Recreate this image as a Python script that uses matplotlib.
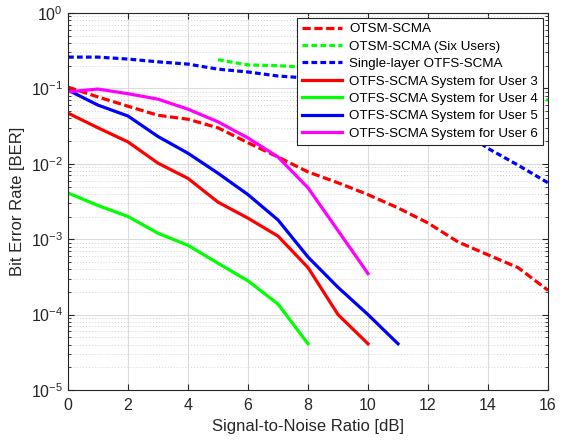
import matplotlib
matplotlib.use("Agg")
import matplotlib.pyplot as plt
from matplotlib.ticker import LogLocator, NullFormatter, FixedLocator

plt.rcParams['font.family'] = ['Liberation Sans', 'DejaVu Sans']
plt.rcParams['mathtext.fontset'] = 'custom'
plt.rcParams['mathtext.rm'] = 'Liberation Sans'

snr_otsm = list(range(0, 17))
ber_otsm = [0.104, 0.077, 0.058, 0.044, 0.039, 0.030, 0.019, 0.0123, 0.0078,
            0.0056, 0.0039, 0.0026, 0.00164, 0.00092, 0.00062, 0.00042, 0.00021]

snr_six = list(range(5, 17))
ber_six = [0.24, 0.205, 0.2, 0.19, 0.175, 0.16, 0.145, 0.13, 0.115, 0.1, 0.085, 0.07]

snr_single = list(range(0, 17))
ber_single = [0.26, 0.26, 0.245, 0.225, 0.21, 0.18, 0.165, 0.146, 0.137,
              0.12, 0.1, 0.08, 0.055, 0.03, 0.016, 0.0096, 0.0056]

snr_u3 = list(range(0, 11))
ber_u3 = [0.047, 0.03, 0.0195, 0.0102, 0.0064, 0.0031, 0.0019, 0.0011, 0.00042, 0.0001, 4.1e-5]

snr_u4 = list(range(0, 9))
ber_u4 = [0.0041, 0.0028, 0.002, 0.0012, 0.00083, 0.00048, 0.00028, 0.000138, 4.1e-5]

snr_u5 = list(range(0, 12))
ber_u5 = [0.095, 0.06, 0.043, 0.023, 0.0138, 0.0075, 0.0039, 0.0018, 0.00058, 0.00023, 0.0001, 4.1e-5]

snr_u6 = list(range(0, 11))
ber_u6 = [0.09, 0.098, 0.085, 0.072, 0.053, 0.036, 0.022, 0.0123, 0.0048, 0.0013, 0.00035]

fig = plt.figure(figsize=(5.63, 4.42), dpi=100)
ax = fig.add_axes([0.1208, 0.1176, 0.8526, 0.853])

lw = 2.3
ax.plot(snr_otsm, ber_otsm, color='#ff0000', lw=lw, dashes=(2.6, 1.1), label='OTSM-SCMA')
ax.plot(snr_six, ber_six, color='#00ff00', lw=lw, dashes=(1.8, 1.0), label='OTSM-SCMA (Six Users)')
ax.plot(snr_single, ber_single, color='#0000ff', lw=lw, dashes=(1.8, 1.0), label='Single-layer OTFS-SCMA')
ax.plot(snr_u3, ber_u3, color='#ff0000', lw=lw, label='OTFS-SCMA System for User 3')
ax.plot(snr_u4, ber_u4, color='#00ff00', lw=lw, label='OTFS-SCMA System for User 4')
ax.plot(snr_u5, ber_u5, color='#0000ff', lw=lw, label='OTFS-SCMA System for User 5')
ax.plot(snr_u6, ber_u6, color='#ff00ff', lw=lw, label='OTFS-SCMA System for User 6')

ax.set_yscale('log')
ax.set_xlim(0, 16)
ax.set_ylim(1e-5, 1)
ax.xaxis.set_major_locator(FixedLocator(list(range(0, 17, 2))))
ax.yaxis.set_major_locator(LogLocator(base=10, numticks=10))
ax.yaxis.set_minor_locator(LogLocator(base=10, subs=range(2, 10), numticks=20))
ax.yaxis.set_minor_formatter(NullFormatter())

ax.grid(True, which='major', color='#dcdcdc', lw=0.8, ls='-')
ax.grid(True, which='minor', axis='y', color='#d4d4d4', lw=0.7, ls=(0, (1, 2)))
ax.set_axisbelow(True)

for s in ax.spines.values():
    s.set_color('#262626')
    s.set_linewidth(0.8)
ax.tick_params(which='both', direction='in', top=True, right=True, colors='#262626',
               labelsize=11.5, labelcolor='#262626')
ax.tick_params(which='major', length=4)
ax.tick_params(which='minor', length=2)
ax.tick_params(axis='x', pad=6)

ax.set_xlabel('Signal-to-Noise Ratio [dB]', fontsize=12, color='#262626', labelpad=4)
ax.set_ylabel('Bit Error Rate [BER]', fontsize=12, color='#262626', labelpad=4)

leg = ax.legend(loc='upper right', fontsize=9.6, labelspacing=0.38, handlelength=3.0,
                handletextpad=0.5, borderpad=0.4, borderaxespad=0.35, fancybox=False,
                framealpha=1, edgecolor='#262626')
leg.get_frame().set_linewidth(0.8)

fig.savefig('out.png', dpi=100)
